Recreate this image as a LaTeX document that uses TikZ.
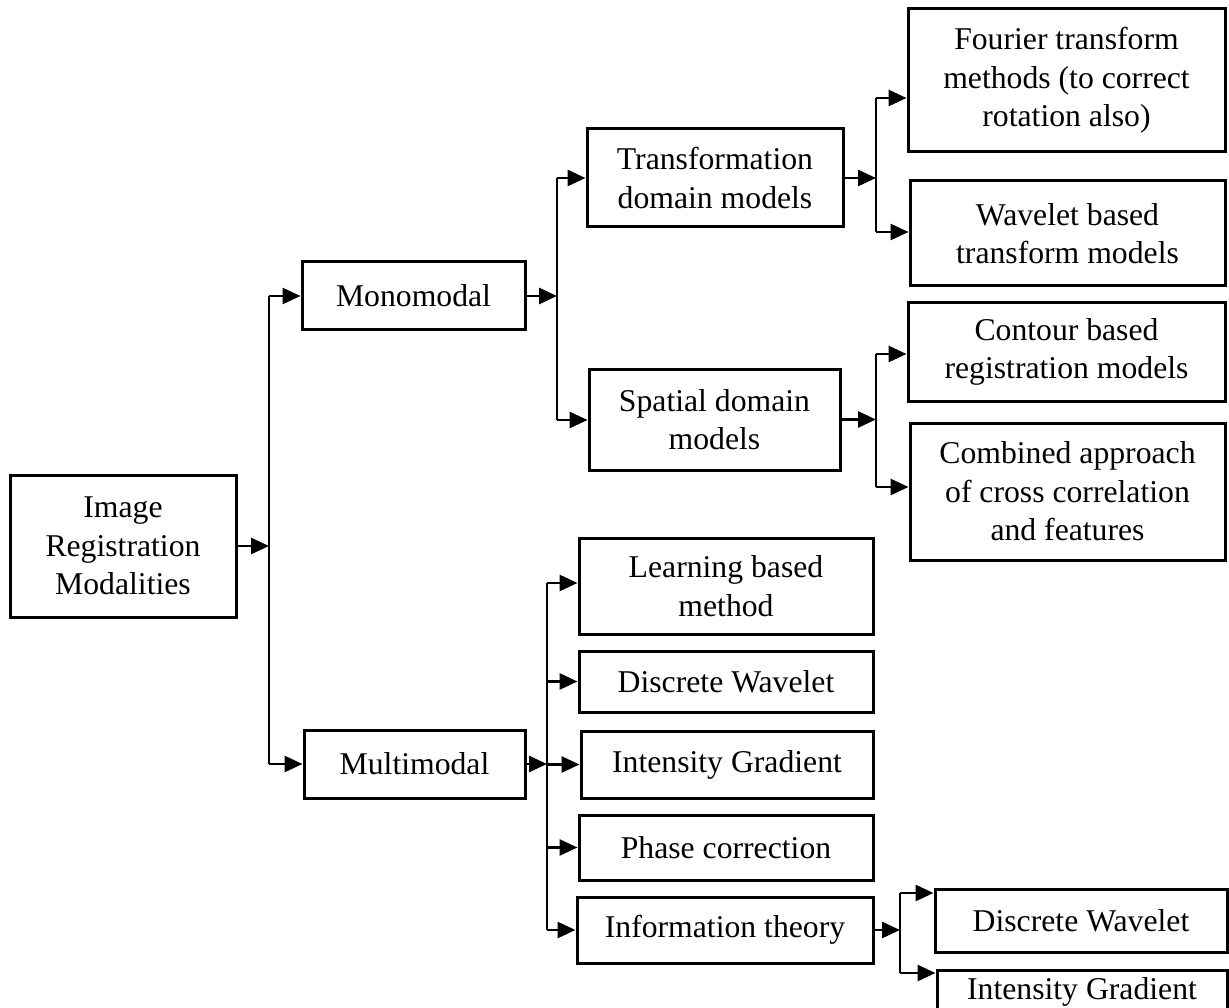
\documentclass[tikz,border=0pt]{standalone}
\usepackage{fontspec}
\setmainfont{Liberation Serif}
\usetikzlibrary{arrows.meta}

\tikzset{
  box/.style={draw, line width=3pt, align=center, inner sep=0pt,
              font=\fontsize{31.7}{38.5}\selectfont},
  arr/.style={line width=2.8pt, -{Triangle[length=18pt,width=16pt]}},
  trunk/.style={line width=2pt},
}

\begin{document}
\begin{tikzpicture}[x=1pt,y=-1pt]
  \useasboundingbox (0,0) rectangle (1229,1008);

  % boxes
  \node[box, minimum width=226, minimum height=142] (img) at (123,546)
    {Image\\Registration\\Modalities};
  \node[box, minimum width=223, minimum height=68] (mono) at (413.5,296) {Monomodal};
  \node[box, minimum width=221, minimum height=68] (multi) at (414.5,764) {Multimodal};

  \node[box, minimum width=256, minimum height=98] (trans) at (715,178)
    {Transformation\\domain models};
  \node[box, minimum width=251, minimum height=101] (spat) at (714.5,419.5)
    {Spatial domain\\models};

  \node[box, minimum width=317, minimum height=143] (four) at (1066.5,80.5)
    {Fourier transform\\methods (to correct\\rotation also)};
  \node[box, minimum width=315, minimum height=105] (wave) at (1067.5,233.5)
    {Wavelet based\\transform models};
  \node[box, minimum width=317, minimum height=98] (cont) at (1066.5,352)
    {Contour based\\registration models};
  \node[box, minimum width=315, minimum height=137] (comb) at (1067.5,491.5)
    {Combined approach\\of cross correlation\\and features};

  \node[box, minimum width=294, minimum height=96] (learn) at (726,586)
    {Learning based\\method};
  \node[box, minimum width=294, minimum height=61] (dwa) at (726,681.5) {Discrete Wavelet};
  \node[box, minimum width=292, minimum height=67] (iga) at (727,764.5) {Intensity Gradient};
  \node[box, minimum width=294, minimum height=65] (phase) at (726,847.5) {Phase correction};
  \node[box, minimum width=296, minimum height=66] (info) at (725,930) {Information theory};

  \node[box, minimum width=292, minimum height=63] (dwb) at (1081,920.5) {Discrete Wavelet};
  \node[box, minimum width=290, minimum height=44] (igb) at (1082,992) {Intensity Gradient};

  % trunk end points
  \coordinate (t1a) at (269,296);  \coordinate (t1b) at (269,764);
  \coordinate (t2a) at (557,178);  \coordinate (t2b) at (557,420);
  \coordinate (t3a) at (876,98);   \coordinate (t3b) at (876,232);
  \coordinate (t4a) at (876,354);  \coordinate (t4b) at (876,487);
  \coordinate (t5a) at (547,583);  \coordinate (t5b) at (547,930);
  \coordinate (t6a) at (900,893);  \coordinate (t6b) at (900,973);

  % vertical trunks
  \draw[trunk] (t1a) -- (t1b);
  \draw[trunk] (t2a) -- (t2b);
  \draw[trunk] (t3a) -- (t3b);
  \draw[trunk] (t4a) -- (t4b);
  \draw[trunk] (t5a) -- (t5b);
  \draw[trunk] (t6a) -- (t6b);

  % parent box to trunk
  \draw[arr] (img.east) -- (img.east -| t1a);
  \draw[arr] (mono.east) -- (mono.east -| t2a);
  \draw[arr] (trans.east) -- (trans.east -| t3a);
  \draw[arr] (spat.east) -- (spat.east -| t4a);
  \draw[arr] (multi.east) -- (multi.east -| t5a);
  \draw[arr] (info.east) -- (info.east -| t6a);

  % trunk to child boxes
  \draw[arr] (t1a) -- (mono.west |- t1a);
  \draw[arr] (t1b) -- (multi.west |- t1b);
  \draw[arr] (t2a) -- (trans.west |- t2a);
  \draw[arr] (t2b) -- (spat.west |- t2b);
  \draw[arr] (t3a) -- (four.west |- t3a);
  \draw[arr] (t3b) -- (wave.west |- t3b);
  \draw[arr] (t4a) -- (cont.west |- t4a);
  \draw[arr] (t4b) -- (comb.west |- t4b);
  \draw[arr] (t5a) -- (learn.west |- t5a);
  \draw[arr] (t5a |- dwa.west) -- (dwa.west);
  \draw[arr] (t5a |- iga.west) -- (iga.west);
  \draw[arr] (t5a |- phase.west) -- (phase.west);
  \draw[arr] (t5b) -- (info.west |- t5b);
  \draw[arr] (t6a) -- (dwb.west |- t6a);
  \draw[arr] (t6b) -- (igb.west |- t6b);
\end{tikzpicture}
\end{document}
